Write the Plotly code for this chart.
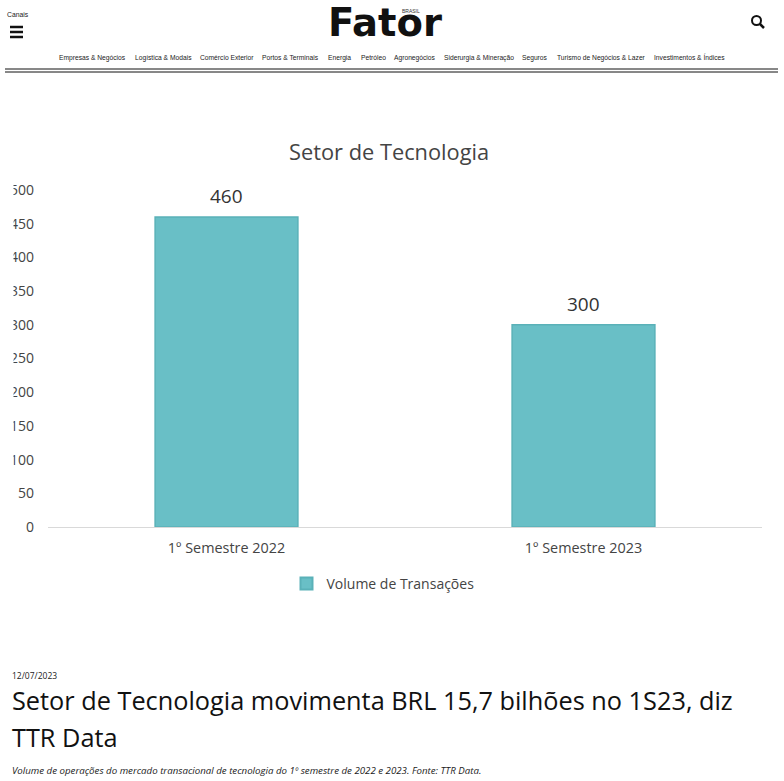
import plotly.graph_objects as go

# chart data
categories = ['1º Semestre 2022', '1º Semestre 2023']
volume = [460, 300]
series_name = 'Volume de Transações'
y_ticks = [0, 50, 100, 150, 200, 250, 300, 350, 400, 450, 500]
nav_items = [
    ('Empresas & Negócios', 92), ('Logística & Modais', 163), ('Comércio Exterior', 227),
    ('Portos & Terminais', 290), ('Energia', 339), ('Petróleo', 373), ('Agronegócios', 415),
    ('Siderurgia & Mineração', 479), ('Seguros', 535), ('Turismo de Negócios & Lazer', 601),
    ('Investimentos & Índices', 689),
]

W, H = 784, 781
FONT = 'Open Sans'
SMALL = 'Liberation Sans'


def px(x):
    return x / W


def py(y):
    return 1 - y / H


fig = go.Figure()
fig.add_trace(go.Bar(
    x=categories, y=volume, name=series_name,
    marker=dict(color='#69BFC6', line=dict(color='#5AB1B8', width=1.5)),
))


def label(text, x, y, size, color='#222222', family=FONT, anchor='center', weight=None, **kw):
    fig.add_annotation(text=text, x=px(x), y=py(y), xref='paper', yref='paper',
                       showarrow=False, xanchor=anchor, yanchor='middle',
                       font=dict(size=size, color=color, family=family, weight=weight), **kw)


# value labels sit well above the bars in the original
for cat, val in zip(categories, volume):
    fig.add_annotation(x=cat, y=val, text=str(val), showarrow=False, yshift=21,
                       font=dict(size=19, color='#333333', family=FONT))

# page header
label('Canais', 18, 15, 6.8, family=SMALL)
label('Fator', 385, 23, 38.5, color='#111111', family='DejaVu Sans', weight='bold')
label('BRASIL', 411, 11, 5, color='#333333', family=SMALL)
for text, x in nav_items:
    # the accented capital makes the last box taller
    label(text, x, 57 if 'Í' in text else 58, 6.7, family=SMALL)

shapes = []
for y in (27, 32, 37):
    shapes.append(dict(type='line', xref='paper', yref='paper', x0=px(10), x1=px(23), y0=py(y), y1=py(y),
                       line=dict(color='#111111', width=2.5)))
shapes.append(dict(type='circle', xref='paper', yref='paper', x0=px(752), x1=px(761), y0=py(16), y1=py(25),
                   line=dict(color='#111111', width=2)))
shapes.append(dict(type='line', xref='paper', yref='paper', x0=px(760), x1=px(764), y0=py(24), y1=py(28),
                   line=dict(color='#111111', width=2.5)))
for y in (69, 72):
    shapes.append(dict(type='line', xref='paper', yref='paper', x0=px(5), x1=px(778), y0=py(y), y1=py(y),
                       line=dict(color='#111111', width=1)))

# chart title
label('Setor de Tecnologia', 389, 151.5, 21.8, color='#444444')

# article text under the chart
label('12/07/2023', 10, 675, 8.5, anchor='left')
label('Setor de Tecnologia movimenta BRL 15,7 bilhões no 1S23, diz', 10, 700, 25.3, color='#111111', anchor='left')
label('TTR Data', 10, 737, 25.3, color='#111111', anchor='left')
label('<i>Volume de operações do mercado transacional de tecnologia do 1º semestre de 2022 e 2023. Fonte: TTR Data.</i>',
      10, 770, 9.7, anchor='left')

# the screenshot cuts off the left edge of the tick labels
fig.add_annotation(text=' ', x=0, y=py(358), xref='paper', yref='paper', xanchor='left', yanchor='middle',
                   showarrow=False, width=10, height=350, bgcolor='white')

fig.update_layout(
    width=W, height=H,
    margin=dict(l=0, r=0, t=0, b=0, autoexpand=False),
    paper_bgcolor='white', plot_bgcolor='white',
    bargap=0.6,
    font=dict(family=FONT, color='#444444'),
    shapes=shapes,
    showlegend=True,
    legend=dict(x=px(383), y=py(584), xanchor='center', yanchor='middle',
                orientation='h', font=dict(size=14, color='#444444'), itemsizing='constant'),
    xaxis=dict(domain=[px(48), px(762)], showgrid=False, showline=True, linecolor='#D9D9D9',
               linewidth=1, ticks='', ticklabelstandoff=8, tickfont=dict(size=14.4, color='#444444')),
    yaxis=dict(domain=[py(527), py(190)], range=[0, 500], tickvals=y_ticks, showgrid=False,
               zeroline=False, ticks='', ticklabelstandoff=13, tickfont=dict(size=14, color='#444444')),
)

fig.write_html("out.html", config=dict(displayModeBar=False),
               post_script="document.body.style.margin = '0';")
